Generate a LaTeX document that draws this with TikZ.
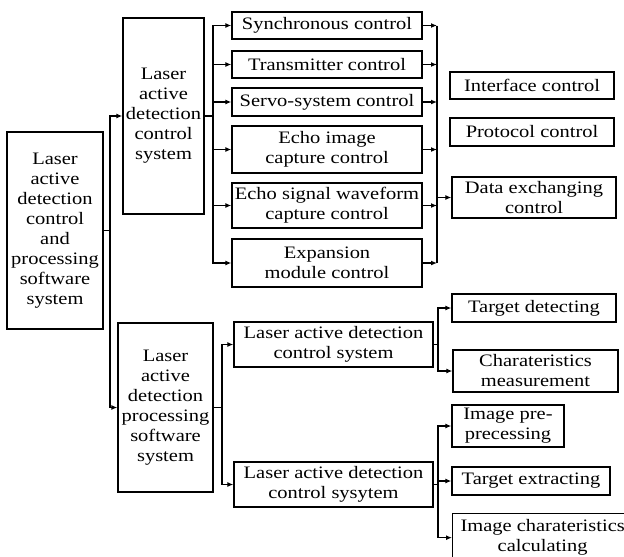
\documentclass[tikz,border=0pt]{standalone}
\usepackage{fontspec}
\setmainfont{Liberation Serif}[FakeStretch=1.17]
\usetikzlibrary{arrows.meta}
\begin{document}
\begin{tikzpicture}[x=1pt,y=-1pt,
  box/.style={draw, line width=1.3pt, align=center, inner sep=0pt,
    font=\fontsize{17.5pt}{20pt}\selectfont},
  conn/.style={line width=1.3pt},
  arr/.style={line width=1.3pt, -{Latex[length=6pt,width=5pt]}}]
\useasboundingbox (0,0) rectangle (624,557);
% nodes
\node[box, minimum width=96pt, minimum height=197pt] (root) at (55,230.5)
  {Laser\\active\\detection\\control\\and\\processing\\software\\system};
\node[box, minimum width=81pt, minimum height=196pt] (A) at (163.5,116)
  {Laser\\active\\detection\\control\\system};
\node[box, minimum width=95pt, minimum height=169pt] (B) at (165.5,407.5)
  {Laser\\active\\detection\\processing\\software\\system};
\node[box, minimum width=190pt, minimum height=27pt] (s1) at (327,25.5) {Synchronous control};
\node[box, minimum width=190pt, minimum height=27pt] (s2) at (327,64.5) {Transmitter control};
\node[box, minimum width=190pt, minimum height=28pt] (s3) at (327,102) {Servo-system control};
\node[box, minimum width=190pt, minimum height=47pt] (s4) at (327,149.5) {Echo image\\capture control};
\node[box, minimum width=190pt, minimum height=45pt] (s5) at (327,205.5) {Echo signal waveform\\capture control};
\node[box, minimum width=190pt, minimum height=48pt] (s6) at (327,263) {Expansion\\module control};
\node[box, minimum width=164pt, minimum height=27pt] (i1) at (532,85.5) {Interface control};
\node[box, minimum width=164pt, minimum height=28pt] (i2) at (532,132) {Protocol control};
\node[box, minimum width=164pt, minimum height=41pt] (i3) at (534,197.5) {Data exchanging\\control};
\node[box, minimum width=199pt, minimum height=45pt] (c1) at (333.5,344.5) {Laser active detection\\control system};
\node[box, minimum width=199pt, minimum height=45pt] (c2) at (333.5,484.5) {Laser active detection\\control sysytem};
\node[box, minimum width=164pt, minimum height=28pt] (t1) at (534,308) {Target detecting};
\node[box, minimum width=165pt, minimum height=42pt] (t2) at (535.5,371) {Charateristics\\measurement};
\node[box, minimum width=112pt, minimum height=42pt] (p1) at (508,426) {Image pre-\\precessing};
\node[box, minimum width=158pt, minimum height=28pt] (p2) at (531,481) {Target extracting};
\node[box, minimum width=180pt, minimum height=48pt, anchor=north west] (p3) at (452,513) {Image charateristics\\calculating};
% junction coordinates
\coordinate (jr) at (110,230.5);
\coordinate (ja) at (213,116);
\coordinate (jb) at (222,407.5);
\coordinate (bus) at (437,197.5);
\coordinate (jc1) at (438,344.5);
\coordinate (jc2) at (438,484.5);
% root
\draw[conn] (root.east) -- (jr);
\draw[arr] (jr) |- (A.west);
\draw[arr] (jr) |- (B.west);
% A
\draw[conn] (A.east) -- (ja);
\foreach \n in {s1,s2,s3,s4,s5,s6} \draw[arr] (ja) |- (\n.west);
% right bus
\foreach \n in {s1,s2,s3,s4,s5,s6} \draw[arr] (\n.east) -- (\n.east -| bus);
\draw[conn] (s1.east -| bus) -- (s6.east -| bus);
\draw[arr] (bus) -- (i3.west);
% B
\draw[conn] (B.east) -- (jb);
\draw[arr] (jb) |- (c1.west);
\draw[arr] (jb) |- (c2.west);
% c1
\draw[conn] (c1.east) -- (jc1);
\draw[arr] (jc1) |- (t1.west);
\draw[arr] (jc1) |- (t2.west);
% c2
\draw[conn] (c2.east) -- (jc2);
\draw[arr] (jc2) |- (p1.west);
\draw[arr] (jc2) |- (p2.west);
\draw[arr] (jc2) |- (p3.west);
\end{tikzpicture}
\end{document}
